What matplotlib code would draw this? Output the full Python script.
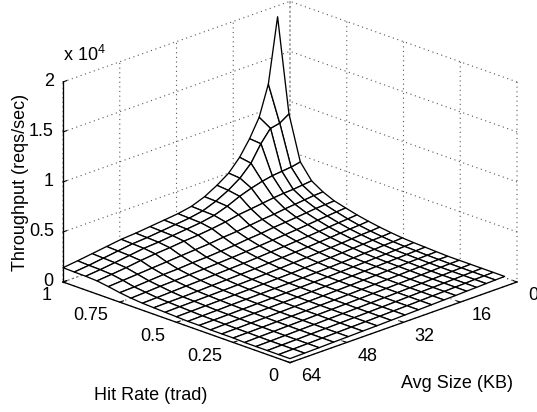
import numpy as np
import matplotlib
matplotlib.use("Agg")
import matplotlib.pyplot as plt
from mpl_toolkits.mplot3d import proj3d

plt.rcParams['font.family'] = ['Liberation Sans', 'DejaVu Sans']
plt.rcParams['mathtext.default'] = 'regular'
plt.rcParams['grid.linestyle'] = (0, (1, 3.2))
plt.rcParams['grid.linewidth'] = 0.8
plt.rcParams['grid.color'] = '#555555'

avg_size_kb = [3.5, 6.1, 8.7, 11.4, 14.2, 17.3, 20.6, 24.1, 27.8, 31.6, 35.5, 39.5, 43.5, 47.6, 51.7, 55.8, 59.9, 64]
hit_rate = [0, .05, .1, .15, .2, .25, .3, .35, .4, .45, .5, .55, .6, .65, .7, .75, .8, .85, .9, .95, 1]

# throughput in units of 10^4 reqs/sec; one row per hit rate, one column per size
throughput = [
    [.10, .097, .094, .09, .087, .083, .08, .076, .072, .068, .064, .06, .057, .053, .05, .046, .043, .04],
    [.10, .097, .094, .09, .087, .083, .08, .076, .072, .068, .064, .06, .057, .053, .05, .046, .043, .04],
    [.10, .097, .094, .09, .087, .083, .08, .076, .072, .068, .064, .06, .057, .053, .05, .046, .043, .04],
    [.10, .097, .094, .09, .087, .083, .08, .076, .072, .068, .064, .06, .057, .053, .05, .046, .043, .04],
    [.10, .098, .095, .091, .088, .084, .081, .077, .073, .069, .065, .061, .058, .054, .051, .047, .044, .04],
    [.10, .10, .097, .093, .09, .086, .082, .078, .074, .07, .065, .062, .058, .055, .052, .049, .046, .045],
    [.105, .102, .099, .096, .092, .088, .084, .08, .075, .071, .066, .063, .06, .056, .053, .05, .047, .045],
    [.11, .106, .102, .098, .094, .09, .085, .081, .077, .072, .068, .064, .061, .058, .055, .052, .049, .045],
    [.115, .11, .105, .10, .097, .092, .088, .083, .078, .074, .07, .066, .063, .06, .057, .054, .051, .05],
    [.122, .116, .113, .107, .102, .096, .091, .086, .081, .076, .072, .069, .066, .063, .06, .056, .053, .05],
    [.134, .128, .124, .118, .112, .106, .10, .094, .088, .082, .078, .074, .07, .067, .064, .061, .058, .055],
    [.149, .142, .138, .131, .124, .118, .111, .104, .098, .091, .085, .08, .076, .072, .069, .066, .063, .06],
    [.168, .16, .155, .148, .14, .133, .125, .118, .11, .103, .095, .09, .085, .08, .075, .07, .068, .065],
    [.191, .183, .177, .169, .16, .151, .143, .134, .126, .117, .109, .103, .097, .091, .086, .08, .074, .07],
    [.22, .213, .205, .197, .187, .177, .167, .157, .147, .137, .127, .12, .113, .107, .10, .095, .087, .08],
    [.25, .245, .24, .23, .22, .21, .20, .185, .175, .16, .15, .14, .135, .125, .12, .11, .10, .095],
    [.30, .295, .285, .275, .265, .25, .24, .225, .21, .20, .185, .175, .165, .155, .145, .135, .125, .115],
    [.37, .36, .35, .345, .335, .32, .305, .29, .265, .245, .23, .22, .205, .195, .18, .16, .145, .132],
    [.52, .50, .49, .48, .46, .43, .39, .335, .29, .265, .25, .235, .22, .21, .19, .17, .152, .138],
    [.96, .90, .88, .76, .60, .49, .41, .345, .295, .27, .255, .24, .225, .215, .195, .175, .155, .14],
    [1.89, 1.25, .95, .77, .62, .50, .42, .35, .30, .275, .26, .245, .23, .22, .20, .18, .16, .143],
]

size_ticks = [0, 16, 32, 48, 64]
size_tick_labels = ['0', '16', '32', '48', '64']
hit_ticks = [0, .25, .5, .75, 1]
hit_tick_labels = ['0', '0.25', '0.5', '0.75', '1']
z_ticks = [0, .5, 1, 1.5, 2]
z_tick_labels = ['0', '0.5', '1', '1.5', '2']

W, H = 537, 412
FS = 13
fig = plt.figure(figsize=(W / 100, H / 100), dpi=100)
ax = fig.add_axes([0, 0, 1, 1], projection='3d', proj_type='ortho')
ax.set_xlim(64, 0)
ax.set_ylim(0, 1)
ax.set_zlim(0, 2)
ax.view_init(elev=20.8, azim=-135)
ax.set_box_aspect((321, 321, 214))

X, Y = np.meshgrid(avg_size_kb, hit_rate)
ax.plot_surface(X, Y, np.array(throughput), rstride=1, cstride=1, color='white',
                edgecolor='black', linewidth=0.95, shade=False, antialiased=True)

ax.set_xticks(size_ticks)
ax.set_xticklabels(size_tick_labels, fontsize=FS, ha='left', va='center')
ax.set_yticks(hit_ticks)
ax.set_yticklabels(hit_tick_labels, fontsize=FS, ha='right', va='center')
ax.set_zticks(z_ticks)
ax.set_zticklabels(z_tick_labels, fontsize=FS, ha='right', va='center')
ax.tick_params(axis='x', pad=1)
ax.tick_params(axis='y', pad=1)
ax.tick_params(axis='z', pad=-4.3)
for axis in (ax.xaxis, ax.yaxis, ax.zaxis):
    axis.pane.set_facecolor((1, 1, 1, 0))
    axis.pane.set_edgecolor((1, 1, 1, 0))
    axis.line.set_color('black')
    axis.line.set_linewidth(0.95)
    axis._axinfo['tick']['inward_factor'] = 0.0
    axis._axinfo['tick']['outward_factor'] = 0.2
    axis._axinfo['tick']['linewidth'] = {True: 0.8, False: 0.5}
ax.zaxis.set_ticks_position('upper')


def to_px(x, y, z):
    ax.apply_aspect()
    px, py, _ = proj3d.proj_transform(x, y, z, ax.get_proj())
    return ax.transData.transform((px, py))


# fit the axes box so that the floor corners land where the reference has them
side = 500.0
ax.set_position([0.5 - side / 2 / W, 0.5 - side / 2 / H, side / W, side / H])
fig.canvas.draw()
left = to_px(64, 1, 0)
right = to_px(0, 0, 0)
side *= (517 - 63) / (right[0] - left[0])
ax.set_position([0.5 - side / 2 / W, 0.5 - side / 2 / H, side / W, side / H])
fig.canvas.draw()
left = to_px(64, 1, 0)
dx = 63 - left[0]
dy = (H - 282) - left[1]
ax.set_position([0.5 - side / 2 / W + dx / W, 0.5 - side / 2 / H + dy / H, side / W, side / H])


def ftext(px, py, s, **kw):
    fig.text(px / W, 1 - py / H, s, fontsize=FS, ha=kw.pop('ha', 'center'), va='center', **kw)


ftext(151, 396, 'Hit Rate (trad)')
ftext(457, 383, 'Avg Size (KB)')
ftext(21, 182, 'Throughput (reqs/sec)', rotation=90)
ftext(63, 55, 'x 10$^{4}$', ha='left')

fig.savefig('out.png', dpi=100)
